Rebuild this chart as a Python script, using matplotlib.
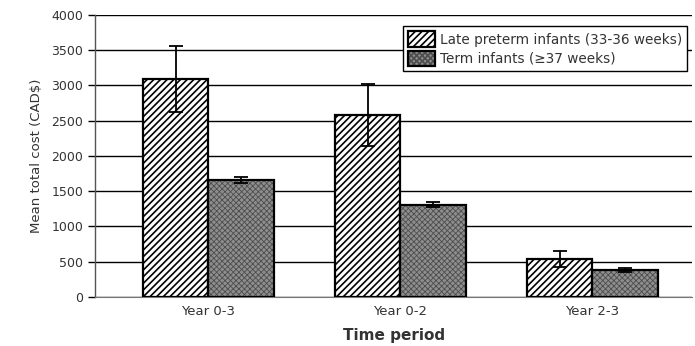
import numpy as np
import matplotlib
matplotlib.use("Agg")
import matplotlib.pyplot as plt

plt.rcParams['font.family'] = ['DejaVu Sans']
plt.rcParams['hatch.linewidth'] = 1.2

# data
periods    = ["Year 0-3", "Year 0-2", "Year 2-3"]
late_mean  = [3090, 2580, 540]
late_err   = [465, 440, 115]
term_mean  = [1655, 1310, 385]
term_err   = [45, 40, 30]
series_lbl = ["Late preterm infants (33-36 weeks)", "Term infants (\u226537 weeks)"]
y_ticks    = [0, 500, 1000, 1500, 2000, 2500, 3000, 3500, 4000]

fig = plt.figure(figsize=(6.95, 3.46), dpi=100)
ax  = fig.add_axes([0.137, 0.142, 0.859, 0.815])

x = np.arange(len(periods))
w = 0.34
ekw = dict(ecolor='black', elinewidth=1.3, capsize=5, capthick=1.3)

b1 = ax.bar(x - w / 2, late_mean, w, yerr=late_err, color='white', edgecolor='black',
            linewidth=1.6, hatch='/////', error_kw=ekw, zorder=3, label=series_lbl[0])
b2 = ax.bar(x + w / 2, term_mean, w, yerr=term_err, color='#8e8e8e', edgecolor='black',
            linewidth=1.6, error_kw=ekw, zorder=3, label=series_lbl[1])
# fine grey checker texture on the term bars
for p in b2:
    p.set_hatch('xxxxxx')
    p._hatch_color = (0.3, 0.3, 0.3, 1.0)
    p._hatch_linewidth = 0.6

ax.set_ylim(0, 4000)
ax.set_xlim(-0.59, 2.52)
ax.set_yticks(y_ticks)
ax.set_xticks(x)
ax.set_xticklabels(periods, fontsize=9.5, color='#333333')
ax.tick_params(axis='y', labelsize=9, labelcolor='#333333', length=5, width=1, direction='out')
ax.tick_params(axis='x', length=0, pad=6)
ax.yaxis.grid(True, color='black', linewidth=1.0, zorder=0)
ax.set_axisbelow(True)

for s in ['top', 'right']:
    ax.spines[s].set_visible(False)
ax.spines['left'].set_color('#555555')
ax.spines['bottom'].set_color('#777777')
ax.spines['left'].set_linewidth(1.0)

ax.set_ylabel("Mean total cost (CAD$)", fontsize=9.5, color='#333333', labelpad=6)
ax.set_xlabel("Time period", fontsize=11, fontweight='semibold', color='#333333', labelpad=7)

leg = ax.legend(loc='upper right', bbox_to_anchor=(1.003, 0.985), fontsize=9.8, frameon=True,
                fancybox=False, edgecolor='black', framealpha=1, borderpad=0.4,
                handlelength=2.0, handleheight=1.35, handletextpad=0.3, labelspacing=0.3)
leg.get_frame().set_linewidth(1.0)
for t in leg.get_texts():
    t.set_color('#333333')

fig.savefig("out.png", dpi=100)
